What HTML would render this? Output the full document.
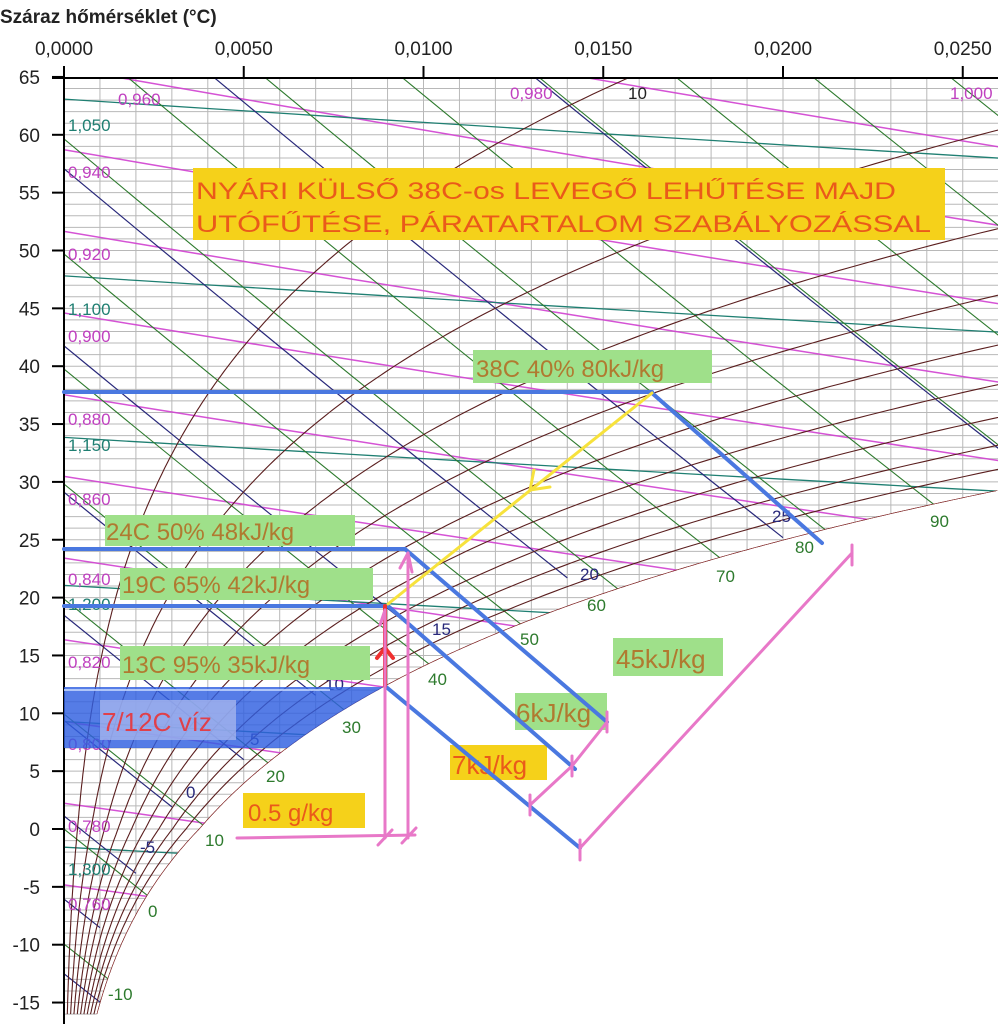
<!DOCTYPE html>
<html><head><meta charset="utf-8"><style>
html,body{margin:0;padding:0;background:#fff;width:998px;height:1024px;overflow:hidden;}
svg{display:block;font-family:"Liberation Sans",sans-serif;}
</style></head><body>
<svg id="s" width="998" height="1024" viewBox="0 0 998 1024" xmlns="http://www.w3.org/2000/svg">
<defs><clipPath id="cp"><polygon id="cpoly" points="0,0"/></clipPath></defs>
<rect width="998" height="1024" fill="#fff"/>
<g id="grid" clip-path="url(#cp)"></g>
<g id="lines" clip-path="url(#cp)"></g>
<g id="axes"></g>
<g id="labels" font-size="17"></g>
<g id="over"></g>
</svg>
<script>
var NS="http://www.w3.org/2000/svg";
function X(w){return 64+w*35950;}
function Y(T){return 829-11.57*T;}
function psat(T){return T>=0?0.6108*Math.exp(17.27*T/(T+237.3)):0.6108*Math.exp(21.875*T/(T+265.5));}
function ws(T){var ps=psat(T);return 0.622*ps/(101.325-ps);}
function wr(T,rh){var ps=psat(T)*rh;return 0.622*ps/(101.325-ps);}
function el(p,tag,a,txt){var e=document.createElementNS(NS,tag);for(var k in a)e.setAttribute(k,a[k]);if(txt!=null)e.textContent=txt;p.appendChild(e);return e;}
var G=document.getElementById('grid'),L=document.getElementById('lines'),A=document.getElementById('axes'),LB=document.getElementById('labels'),O=document.getElementById('over');
var pts=["64,1030","64,78","998,78"];var sat=[];
for(var T=-16;T<=40;T+=0.1){sat.push([X(ws(T)),Y(T)]);}
var cpts=[];for(var i=sat.length-1;i>=0;i--){if(sat[i][0]<=998)cpts.push(sat[i][0].toFixed(1)+","+sat[i][1].toFixed(1));}
var i0=0;while(sat[i0][0]<998)i0++;
pts.push("998,"+sat[i0][1].toFixed(1));
pts=pts.concat(cpts);
document.getElementById('cpoly').setAttribute('points',pts.join(" "));
for(var t=-16;t<=65;t++)el(G,'line',{x1:64,x2:998,y1:Y(t),y2:Y(t),stroke:'#b8b8b8','stroke-width':1});
for(var w=0;w<=0.028;w+=0.001)el(G,'line',{x1:X(w),x2:X(w),y1:78,y2:1024,stroke:'#b8b8b8','stroke-width':1});
function poly(par,f,a,b,st,attrs){var d="";var first=true;for(var w=a;w<=b+1e-9;w+=st){var T=f(w);d+=(first?"M":"L")+X(w).toFixed(1)+","+Y(T).toFixed(1);first=false;}attrs.d=d;attrs.fill='none';el(par,'path',attrs);}
for(var v=0.76;v<=1.021;v+=0.02){(function(v){poly(L,function(w){return v*101.325/(0.287*(1+1.6078*w))-273.15;},0,0.028,0.002,{stroke:'#d040d0','stroke-width':1.5,opacity:0.9});})(v);}
for(var r=1.05;r<=1.33;r+=0.05){(function(r){poly(L,function(w){return 101.325/(0.287*r)*(1+w)/(1+1.6078*w)-273.15;},0,0.028,0.002,{stroke:'#1f7f72','stroke-width':1.3});})(r);}
for(var h=-20;h<=140;h+=10){(function(h){poly(L,function(w){return (h-2501*w)/(1.006+1.86*w);},0,0.028,0.002,{stroke:'#2d7a2d','stroke-width':1.1});})(h);}
for(var tw=-15;tw<=32;tw+=5){(function(tw){var W=ws(tw);var hh=1.006*tw+W*(2501+1.86*tw);poly(L,function(w){return (hh-2501*w)/(1.006+1.86*w);},0,Math.min(W,0.028),0.001,{stroke:'#28287a','stroke-width':1.2});})(tw);}
for(var rh=0.1;rh<=1.001;rh+=0.1){var d="";for(var T=-16;T<=66;T+=0.25){d+=(T==-16?"M":"L")+X(wr(T,rh)).toFixed(1)+","+Y(T).toFixed(1);}el(L,'path',{d:d,fill:'none',stroke:'#5a1e1e','stroke-width':1.1});}
var d="";sat.forEach(function(p,i){d+=(i?"L":"M")+p[0].toFixed(1)+","+p[1].toFixed(1);});el(L,'path',{d:d,fill:'none',stroke:'#8a2a2a','stroke-width':1.2});
el(A,'line',{x1:64,y1:78,x2:64,y2:1024,stroke:'#000','stroke-width':2});
el(A,'line',{x1:52,y1:78,x2:998,y2:78,stroke:'#000','stroke-width':2});
for(var t=-15;t<=65;t+=5){el(A,'line',{x1:52,x2:64,y1:Y(t),y2:Y(t),stroke:'#000','stroke-width':2});el(A,'text',{x:40,y:Y(t)+7,'text-anchor':'end','font-size':19,fill:'#222'},String(t));}
var tl=["0,0000","0,0050","0,0100","0,0150","0,0200","0,0250"];
for(var k=0;k<6;k++){var x=X(k*0.005);el(A,'line',{x1:x,x2:x,y1:66,y2:78,stroke:'#000','stroke-width':2});el(A,'text',{x:x,y:55,'text-anchor':'middle','font-size':19,fill:'#222'},tl[k]);}
el(A,'text',{x:0,y:23,'font-size':19,'font-weight':'bold',fill:'#222'},"Száraz hőmérséklet (°C)");
var lab=[["0,960",118,105,'#c040c0'],["0,980",510,99,'#c040c0'],["1,000",950,99,'#c040c0'],["10",628,99,'#222'],["1,050",68,131,'#1f7f72'],["0,940",68,178,'#c040c0'],["0,920",68,260,'#c040c0'],["1,100",68,315,'#1f7f72'],["0,900",68,342,'#c040c0'],["0,880",68,425,'#c040c0'],["1,150",68,451,'#1f7f72'],["0,860",68,505,'#c040c0'],["0,840",68,585,'#c040c0'],["1,200",68,610,'#1f7f72'],["0,820",68,668,'#c040c0'],["0,800",68,750,'#c040c0'],["0,780",68,832,'#c040c0'],["1,300",68,875,'#1f7f72'],["0,760",68,910,'#c040c0'],
["25",772,522,'#28287a'],["20",580,580,'#28287a'],["15",432,635,'#28287a'],["10",325,690,'#28287a'],["5",250,745,'#28287a'],["0",186,798,'#28287a'],["-5",140,853,'#28287a'],
["90",930,527,'#2d7a2d'],["80",795,553,'#2d7a2d'],["70",716,582,'#2d7a2d'],["60",587,611,'#2d7a2d'],["50",520,645,'#2d7a2d'],["40",428,685,'#2d7a2d'],["30",342,733,'#2d7a2d'],["20",266,782,'#2d7a2d'],["10",205,846,'#2d7a2d'],["0",148,917,'#2d7a2d'],["-10",108,1000,'#2d7a2d']];
lab.forEach(function(a){el(LB,'text',{x:a[1],y:a[2],fill:a[3]},a[0]);});
function R(x,y,w,h,c,o){el(O,'rect',{x:x,y:y,width:w,height:h,fill:c,opacity:o||1});}
function T2(x,y,c,t,sz,len){var a={x:x,y:y,fill:c,'font-size':sz||22};if(len){a.textLength=len;a.lengthAdjust='spacingAndGlyphs';}el(O,'text',a,t);}
function Ln(x1,y1,x2,y2,c,w){el(O,'line',{x1:x1,y1:y1,x2:x2,y2:y2,stroke:c,'stroke-width':w||4,'stroke-linecap':'round'});}
var bd="M64,687 L"+X(ws(12.2)).toFixed(1)+",687 ";for(var T=12.2;T>=7;T-=0.2)bd+="L"+X(ws(T)).toFixed(1)+","+Y(T).toFixed(1)+" ";bd+="L64,748 Z";
el(O,'path',{d:bd,fill:'#2f5fe0',opacity:0.82});
el(O,'line',{x1:64,x2:330,y1:690,y2:690,stroke:'#cfe0ff','stroke-width':1.5});
R(100,700,136,40,'#a9b8ee',0.75);T2(102,731,'#e0404a',"7/12C víz",26);
R(193,168,752,72,'#f5d11a');
T2(196,199,'#ea5a1a',"NYÁRI KÜLSŐ 38C-os  LEVEGŐ LEHŰTÉSE MAJD",24,700);
T2(196,232,'#ea5a1a',"UTÓFŰTÉSE,  PÁRATARTALOM SZABÁLYOZÁSSAL",24,735);
R(473,350,239,33,'#9fe08a');T2(476,377,'#b07a30',"38C 40% 80kJ/kg",24);
R(105,515,250,31,'#9fe08a');T2(106,540,'#b07a30',"24C 50% 48kJ/kg",24);
R(120,568,253,32,'#9fe08a');T2(122,593,'#b07a30',"19C 65% 42kJ/kg",24);
R(120,646,250,34,'#9fe08a');T2(122,673,'#b07a30',"13C 95% 35kJ/kg",24);
R(613,638,110,38,'#9fe08a');T2(616,668,'#b07a30',"45kJ/kg",26);
R(515,693,92,37,'#9fe08a');T2(516,722,'#b07a30',"6kJ/kg",26);
R(450,745,97,35,'#f5d11a');T2(452,774,'#ea5a1a',"7kJ/kg",26);
R(243,793,122,35,'#f5d11a');T2(248,821,'#ea5a1a',"0.5 g/kg",24);
var B='#4a78e0';
Ln(64,392,652,392,B);Ln(652,393,822,543,B);
Ln(64,549,405,549,B);Ln(405,549,607,722,B);
Ln(64,606,388,606,B);Ln(388,606,575,769,B);
Ln(385,686,580,848,B);
Ln(652,393,388,604,'#f7e23c',3);Ln(530,490,534,470,'#f7e23c',3);Ln(530,490,550,487,'#f7e23c',3);
Ln(385,686,385,606,'#f03030',4);Ln(385,648,377,658,'#f03030',4);Ln(385,648,393,658,'#f03030',4);
var P='#e878c8';
Ln(385,838,385,610,P,3);Ln(408,838,408,553,P,3);Ln(408,553,400,568,P,3);Ln(408,553,412,572,P,3);Ln(385,610,380,625,P,3);
Ln(237,838,415,835,P,3);Ln(378,845,392,830,P,3);Ln(402,843,416,828,P,3);
Ln(580,848,852,553,P,3);Ln(580,840,580,860,P,3);Ln(852,545,852,565,P,3);
Ln(530,805,572,766,P,3);Ln(530,795,530,815,P,3);Ln(572,756,572,776,P,3);
Ln(572,766,607,722,P,3);Ln(607,712,607,732,P,3);
</script>
</body></html>
